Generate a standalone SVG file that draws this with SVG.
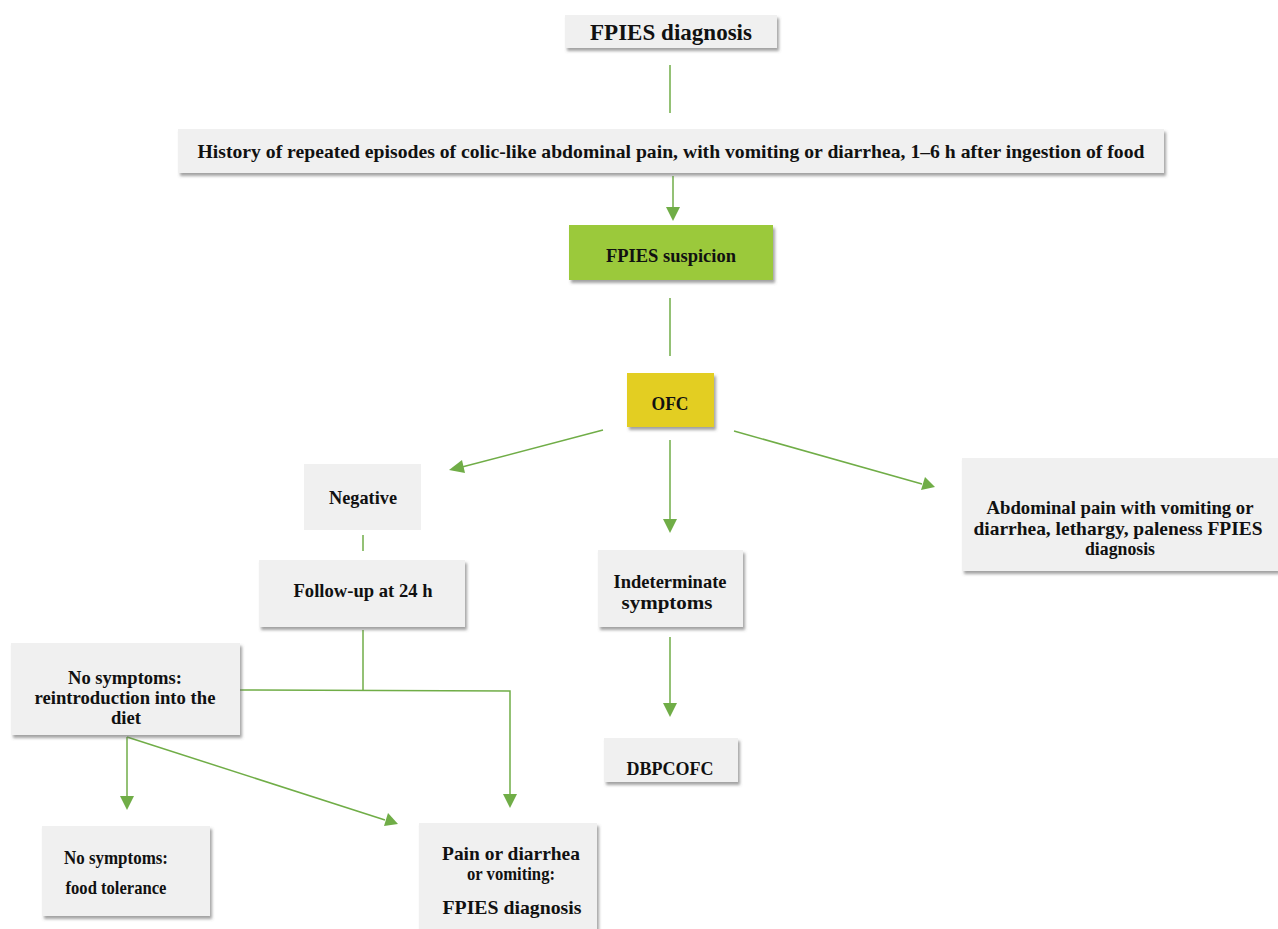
<svg xmlns="http://www.w3.org/2000/svg" width="1278" height="929" viewBox="0 0 1278 929">
<style>
.box{fill:#f0f0f0;filter:url(#sh)}
.plain{fill:#f0f0f0}
.t{font-family:"Liberation Serif","Times New Roman",serif;font-weight:bold;font-size:19px;fill:#111;text-anchor:middle}
.c{stroke:#70AD47;stroke-width:1.5;fill:none}
</style>
<defs>
<filter id="sh" x="-10%" y="-10%" width="130%" height="140%">
<feDropShadow dx="2" dy="3" stdDeviation="1.5" flood-color="#666" flood-opacity="0.6"/>
</filter>
</defs>
<g id="connectors">
<line class="c" x1="670" y1="65" x2="670" y2="113"/>
<line class="c" x1="673" y1="176" x2="673" y2="208"/>
<path d="M666,207 L680,207 L673,221 z" fill="#70AD47"/>
<line class="c" x1="670" y1="298" x2="670" y2="356"/>
<line class="c" x1="603" y1="430" x2="462" y2="467"/>
<path d="M449,470 L462,460 L465,473 z" fill="#70AD47"/>
<line class="c" x1="670" y1="440" x2="670" y2="520"/>
<path d="M663,519 L677,519 L670,533 z" fill="#70AD47"/>
<line class="c" x1="734" y1="431" x2="922" y2="484"/>
<path d="M935,487 L921,490 L925,477 z" fill="#70AD47"/>
<line class="c" x1="363" y1="535" x2="363" y2="551"/>
<line class="c" x1="363" y1="630" x2="363" y2="690"/>
<polyline class="c" points="240,690 510,691 510,795"/>
<path d="M503,794 L517,794 L510,808 z" fill="#70AD47"/>
<line class="c" x1="127" y1="737" x2="127" y2="797"/>
<path d="M120,796 L134,796 L127,810 z" fill="#70AD47"/>
<line class="c" x1="127" y1="737" x2="385" y2="820"/>
<path d="M398,824 L384,826 L388,813 z" fill="#70AD47"/>
<line class="c" x1="670" y1="637" x2="670" y2="704"/>
<path d="M663,703 L677,703 L670,717 z" fill="#70AD47"/>
</g>
<g id="n1"><rect class="box" x="565" y="15" width="212" height="33"/><text class="t" x="671" y="40" style="font-size:24px" textLength="162" lengthAdjust="spacingAndGlyphs">FPIES diagnosis</text></g>
<g id="n2"><rect class="box" x="178" y="129" width="986" height="44"/><text class="t" x="671" y="158" textLength="947" lengthAdjust="spacingAndGlyphs">History of repeated episodes of colic-like abdominal pain, with vomiting or diarrhea, 1–6 h after ingestion of food</text></g>
<g id="n3"><rect class="box" x="569" y="225" width="204" height="55" style="fill:#9BC93A"/><text class="t" x="671" y="262" textLength="130" lengthAdjust="spacingAndGlyphs">FPIES suspicion</text></g>
<g id="n4"><rect class="box" x="627" y="373" width="87" height="54" style="fill:#E3CE22"/><text class="t" x="670" y="410" textLength="37" lengthAdjust="spacingAndGlyphs">OFC</text></g>
<g id="n5"><rect class="plain" x="304" y="464" width="117" height="66"/><text class="t" x="363" y="504" textLength="68" lengthAdjust="spacingAndGlyphs">Negative</text></g>
<g id="n6"><rect class="box" x="259" y="560" width="206" height="67"/><text class="t" x="363" y="597" textLength="139" lengthAdjust="spacingAndGlyphs">Follow-up at 24 h</text></g>
<g id="n7"><rect class="box" x="598" y="550" width="145" height="77"/><text class="t" x="670" y="588" textLength="113" lengthAdjust="spacingAndGlyphs">Indeterminate</text><text class="t" x="667" y="609" textLength="91" lengthAdjust="spacingAndGlyphs">symptoms</text></g>
<g id="n8"><rect class="box" x="962" y="458" width="316" height="113"/><text class="t" x="1120" y="514" textLength="267" lengthAdjust="spacingAndGlyphs">Abdominal pain with vomiting or</text><text class="t" x="1118" y="535" textLength="289" lengthAdjust="spacingAndGlyphs">diarrhea, lethargy, paleness FPIES</text><text class="t" x="1120" y="555" textLength="70" lengthAdjust="spacingAndGlyphs">diagnosis</text></g>
<g id="n9"><rect class="box" x="11" y="643" width="229" height="92"/><text class="t" x="125" y="684" textLength="114" lengthAdjust="spacingAndGlyphs">No symptoms:</text><text class="t" x="125" y="704" textLength="181" lengthAdjust="spacingAndGlyphs">reintroduction into the</text><text class="t" x="126" y="724" textLength="30" lengthAdjust="spacingAndGlyphs">diet</text></g>
<g id="n10"><rect class="box" x="604" y="738" width="134" height="44"/><text class="t" x="670" y="775" textLength="87" lengthAdjust="spacingAndGlyphs">DBPCOFC</text></g>
<g id="n11"><rect class="box" x="42" y="826" width="168" height="90"/><text class="t" x="116" y="864" textLength="104" lengthAdjust="spacingAndGlyphs">No symptoms:</text><text class="t" x="116" y="894" textLength="101" lengthAdjust="spacingAndGlyphs">food tolerance</text></g>
<g id="n12"><rect class="box" x="419" y="823" width="178" height="110"/><text class="t" x="511" y="860" textLength="138" lengthAdjust="spacingAndGlyphs">Pain or diarrhea</text><text class="t" x="511" y="880" textLength="88" lengthAdjust="spacingAndGlyphs">or vomiting:</text><text class="t" x="512" y="914" textLength="139" lengthAdjust="spacingAndGlyphs">FPIES diagnosis</text></g>
</svg>
